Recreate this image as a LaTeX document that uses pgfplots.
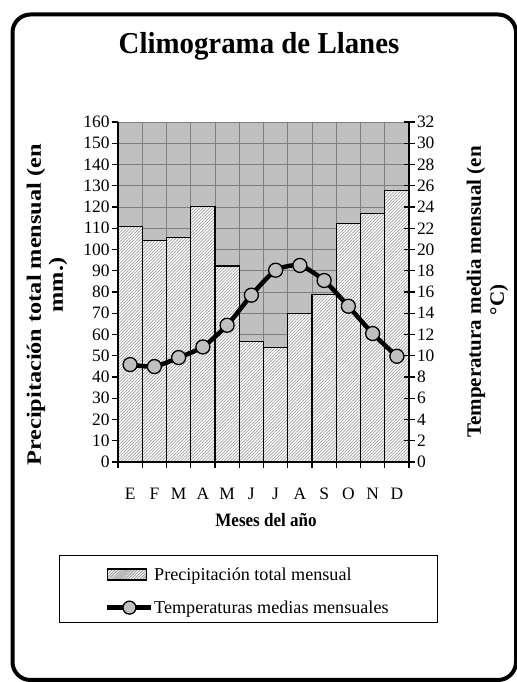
\documentclass[border=0pt]{standalone}
\usepackage{pgfplots}
\pgfplotsset{compat=1.18}
\usepackage{fontspec}
\setmainfont{Liberation Serif}
\usetikzlibrary{patterns.meta}
\definecolor{plotbg}{RGB}{192,192,192}
\definecolor{gridc}{RGB}{128,128,128}
\tikzset{hatchfill/.style={fill=white,postaction={pattern={Lines[angle=45,distance=2.2bp,line width=0.7bp]},pattern color=gray!75}}}
\begin{document}
\begin{tikzpicture}[x=1bp,y=1bp]
\useasboundingbox (0,0) rectangle (517,682);
\draw[line width=4bp, rounded corners=18bp] (12.5,2) rectangle (516,667.5);
\begin{axis}[
  at={(118bp,220bp)}, anchor=south west,
  width=291bp, height=340bp, scale only axis,
  xmin=0.5, xmax=12.5, ymin=0, ymax=160,
  axis x line*=bottom, axis y line*=left,
  axis line style={line width=1.6bp},
  axis background/.style={fill=plotbg},
  xtick={0.5,1.5,...,12.5}, xticklabels={},
  extra x ticks={1,2,...,12},
  extra x tick labels={E,F,M,A,M,J,J,A,S,O,N,D},
  extra x tick style={major tick length=0pt, grid=none,
    xticklabel style={anchor=base, yshift=-38bp}},
  ytick={0,10,...,160},
  xmajorgrids, ymajorgrids,
  major grid style={gridc, line width=0.6bp},
  tick style={black, line width=1.3bp},
  tick align=outside, major tick length=6bp,
  ticklabel style={font=\fontsize{17.5}{17.5}\selectfont},
  /pgf/number format/assume math mode=true,
  yticklabel style={xshift=1bp},
  legend style={draw=none, fill=none, at={(-0.048,-0.298)}, anchor=north west,
    font=\fontsize{18.2}{18.2}\selectfont, row sep=15bp, inner xsep=1bp, nodes={inner xsep=0.5bp}},
  legend cell align=left,
]
\addplot[ybar, bar width=1, draw=black, line width=1.2bp, hatchfill,
  area legend,
  legend image code/.code={\draw[black,line width=1.2bp,fill=white,postaction={pattern={Lines[angle=45,distance=2bp,line width=0.6bp]},pattern color=gray!75}] (0bp,-5.5bp) rectangle (39bp,5.5bp);}]
  coordinates {(1,111.0) (2,104.2) (3,105.8) (4,120.4) (5,92.2) (6,56.8)
               (7,53.8) (8,69.9) (9,78.8) (10,112.2) (11,117.1) (12,127.8)};
\addlegendentry{Precipitación total mensual}
\addlegendimage{legend image code/.code={\draw[black,line width=4.5bp] (0bp,0) -- (44bp,0); \draw[black,line width=1.3bp,fill=plotbg] (22bp,0) circle (6.5bp);}}
\addlegendentry{Temperaturas medias mensuales}
\end{axis}
\begin{axis}[
  at={(118bp,220bp)}, anchor=south west,
  width=291bp, height=340bp, scale only axis,
  xmin=0.5, xmax=12.5, ymin=0, ymax=1,
  axis y line=none, axis x line*=bottom,
  axis line style={line width=1.6bp},
  xtick={0.5,1.5,...,12.5}, xticklabels={},
  tick style={black, line width=1.3bp},
  tick align=center, major tick length=11bp,
]
\end{axis}
\begin{axis}[
  at={(118bp,220bp)}, anchor=south west,
  width=291bp, height=340bp, scale only axis,
  xmin=0.5, xmax=12.5, ymin=0, ymax=32,
  axis x line=none, axis y line*=right,
  axis line style={line width=1.6bp},
  ytick={0,2,...,32},
  tick style={black, line width=1.3bp},
  tick align=center, major tick length=11bp,
  ticklabel style={font=\fontsize{17.5}{17.5}\selectfont},
  /pgf/number format/assume math mode=true,
  yticklabel style={xshift=-1bp},
]
\addplot[black, line width=4.5bp, smooth, tension=0.4, mark=*,
  mark options={fill=plotbg, draw=black, line width=1.3bp, scale=1}, mark size=7bp]
  coordinates {(1,9.17) (2,8.98) (3,9.83) (4,10.83) (5,12.87) (6,15.7)
               (7,18.05) (8,18.5) (9,17.08) (10,14.66) (11,12.09) (12,9.95)};
\end{axis}
\node at (259,636) {\scalebox{0.95}[1]{\fontsize{30.5}{30.5}\selectfont\bfseries Climograma de Llanes}};
\node at (266,162) {\scalebox{0.9}[1]{\fontsize{19}{19}\selectfont\bfseries Meses del año}};
\node[rotate=90] at (36,377) {\scalebox{1.19}[1]{\fontsize{20.5}{20.5}\selectfont\bfseries Precipitación total mensual (en}};
\node[rotate=90] at (58,397) {\scalebox{1.19}[1]{\fontsize{20.5}{20.5}\selectfont\bfseries mm.)}};
\node[rotate=90] at (476,390) {\scalebox{1.03}[1]{\fontsize{20.5}{20.5}\selectfont\bfseries Temperatura media mensual (en}};
\node[rotate=90] at (499,382) {\scalebox{1.03}[1]{\fontsize{20.5}{20.5}\selectfont\bfseries °C)}};
\draw[black, line width=1bp] (59.5,126) rectangle (437.5,59);
\end{tikzpicture}
\end{document}
